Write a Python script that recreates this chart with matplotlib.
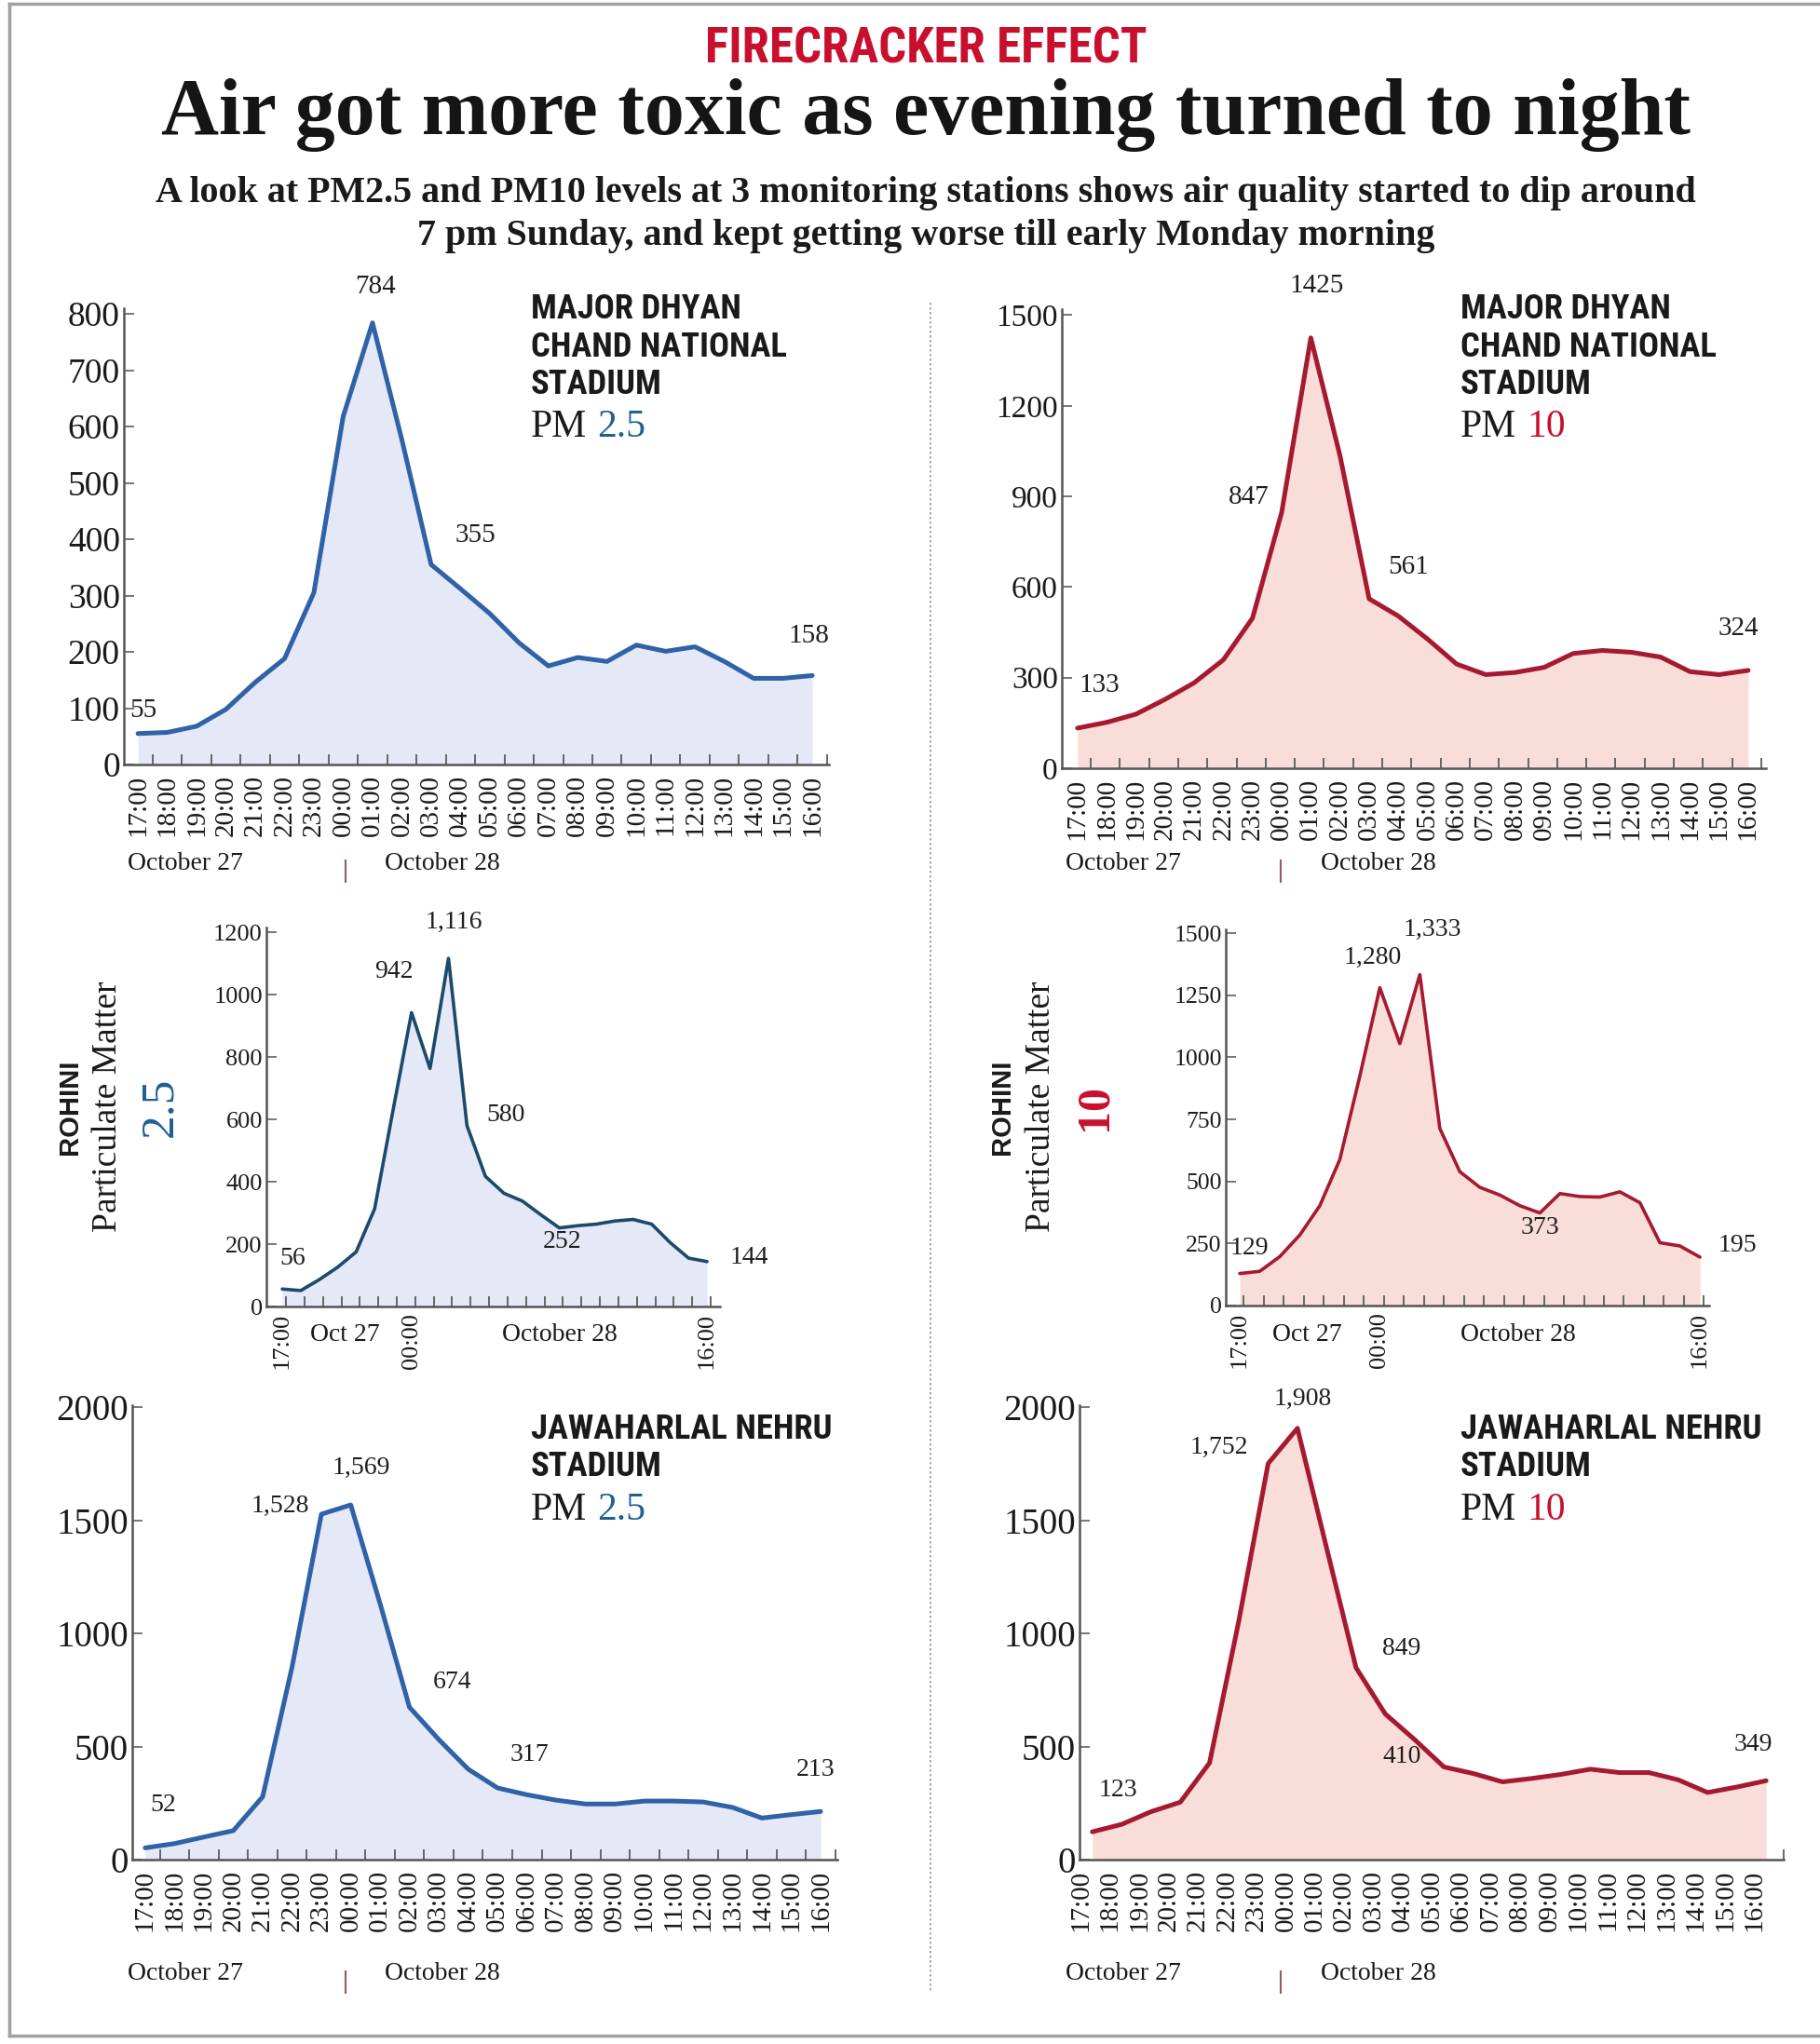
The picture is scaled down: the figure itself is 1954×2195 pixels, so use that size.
import numpy as np
import matplotlib
matplotlib.use("Agg")
import matplotlib.pyplot as plt
from matplotlib.lines import Line2D

plt.rcParams['font.family'] = ['Liberation Serif', 'DejaVu Serif']

# hourly readings, 17:00 on Oct 27 to 16:00 on Oct 28
hours = ['17:00', '18:00', '19:00', '20:00', '21:00', '22:00', '23:00', '00:00',
         '01:00', '02:00', '03:00', '04:00', '05:00', '06:00', '07:00', '08:00',
         '09:00', '10:00', '11:00', '12:00', '13:00', '14:00', '15:00', '16:00']

mdc_pm25 = [55, 57, 68, 98, 146, 188, 305, 618, 784, 577, 355, 312,
            268, 216, 175, 190, 183, 212, 201, 209, 183, 153, 153, 158]
mdc_pm10 = [133, 152, 179, 228, 283, 359, 497, 847, 1425, 1035, 561, 504,
            428, 345, 310, 317, 334, 380, 390, 384, 368, 320, 310, 324]
rohini_pm25 = [56, 51, 86, 126, 175, 313, 630, 942, 763, 1116, 580, 417,
               363, 338, 294, 252, 259, 264, 274, 279, 264, 205, 155, 144]
rohini_pm10 = [129, 138, 197, 284, 402, 588, 924, 1280, 1055, 1333, 713, 539,
               476, 445, 402, 373, 451, 439, 437, 458, 414, 253, 240, 195]
jns_pm25 = [52, 71, 100, 128, 278, 851, 1528, 1569, 1132, 674, 531, 400,
            317, 287, 263, 246, 246, 259, 259, 255, 231, 184, 199, 213]
jns_pm10 = [123, 156, 212, 254, 428, 1057, 1752, 1908, 1376, 849, 644, 531,
            410, 381, 344, 359, 377, 400, 385, 385, 353, 297, 321, 349]

# which points get a value label
mdc_pm25_marks = [0, 8, 10, 23]
mdc_pm10_marks = [0, 7, 8, 10, 23]
rohini_pm25_marks = [0, 7, 9, 10, 15, 23]
rohini_pm10_marks = [0, 7, 9, 15, 23]
jns_pm25_marks = [0, 6, 7, 9, 12, 23]
jns_pm10_marks = [0, 6, 7, 9, 12, 23]

W, H = 1954, 2195
BLUE_LINE = '#2f62a6'
BLUE_DARK = '#1c4a6c'
BLUE_FILL = '#e5e8f7'
RED_LINE = '#a51a30'
RED_FILL = '#f9ddd8'
BLUE_TXT = '#1f5f92'
RED_TXT = '#c8102e'
NARROW = ['Roboto Condensed', 'DejaVu Sans Condensed', 'Liberation Sans Narrow',
          'Liberation Sans', 'DejaVu Sans']

fig = plt.figure(figsize=(W / 100, H / 100), dpi=100)


def add_ax(left, right, bottom, top):
    return fig.add_axes([left / W, 1 - bottom / H, (right - left) / W, (bottom - top) / H])


def draw_panel(ax, values, marks, offsets, line, fill, lw, xlim, ylim, yticks,
               label_pos, label_idx, tick_pos, ysize, xsize, comma, nsize=20, xpad=8):
    x = np.arange(len(values))
    ax.fill_between(x, values, 0, color=fill, lw=0)
    ax.plot(x, values, color=line, lw=lw, solid_joinstyle='round', solid_capstyle='round')
    ax.set_xlim(*xlim)
    ax.set_ylim(*ylim)
    for s in ['top', 'right']:
        ax.spines[s].set_visible(False)
    for s in ['left', 'bottom']:
        ax.spines[s].set_color('#555555')
        ax.spines[s].set_linewidth(1.8)
    ax.set_facecolor('none')
    ax.set_yticks(yticks)
    ax.set_yticklabels([str(v) for v in yticks])
    ax.tick_params(axis='y', direction='in', length=8, width=1.4, color='#777777',
                   pad=3, labelsize=ysize, labelcolor='#1a1a1a')
    ax.set_xticks(label_pos)
    ax.set_xticklabels([hours[i] for i in label_idx], rotation=90)
    ax.tick_params(axis='x', which='major', length=0, pad=xpad, labelsize=xsize,
                   labelcolor='#1a1a1a')
    ax.set_xticks(tick_pos, minor=True)
    ax.tick_params(axis='x', which='minor', direction='in', length=8, width=1.4,
                   color='#666666')
    for i, (dx, dy) in zip(marks, offsets):
        txt = f"{values[i]:,}" if comma else str(values[i])
        ax.annotate(txt, xy=(i, values[i]), xytext=(dx * 0.72, dy * 0.72),
                    textcoords='offset points', ha='center', va='center',
                    fontsize=nsize, color='#1e1e1e')


all_pos = list(range(24))

# top row: Major Dhyan Chand National Stadium
ax1 = add_ax(133, 890, 821, 331)
draw_panel(ax1, mdc_pm25, mdc_pm25_marks, [(6, 25), (3, 39), (48, 31), (-4, 42)],
           BLUE_LINE, BLUE_FILL, 3.6, (-0.48, 23.57), (0, 810), list(range(0, 801, 100)),
           all_pos, all_pos, np.arange(0.5, 24), 27, 21, False, 21)

ax2 = add_ax(1140, 1896, 825, 332)
draw_panel(ax2, mdc_pm10, mdc_pm10_marks, [(23, 46), (-35, 16), (6, 56), (42, 34), (-11, 45)],
           RED_LINE, RED_FILL, 3.6, (-0.54, 23.61), (0, 1520), list(range(0, 1501, 300)),
           all_pos, all_pos, np.arange(0.45, 24), 24, 21, False, 21)

# middle row: Rohini
ax3 = add_ax(286, 773, 1403, 996)
draw_panel(ax3, rohini_pm25, rohini_pm25_marks,
           [(11, 33), (-19, 44), (6, 39), (42, 11), (3, -15), (45, 4)],
           BLUE_DARK, BLUE_FILL, 2.6, (-0.86, 23.7), (0, 1215), list(range(0, 1201, 200)),
           [0, 7, 23], [0, 7, 23], np.arange(0.2, 24), 19, 19, True, 20, 5)

ax4 = add_ax(1316, 1835, 1402, 998)
draw_panel(ax4, rohini_pm10, rohini_pm10_marks,
           [(10, 27), (-8, 32), (13, 48), (0, -16), (40, 13)],
           RED_LINE, RED_FILL, 2.6, (-0.70, 23.46), (0, 1515), list(range(0, 1501, 250)),
           [0, 7, 23], [0, 7, 23], np.arange(0.2, 24), 18.5, 19, True, 20, 5)

# bottom row: Jawaharlal Nehru Stadium
ax5 = add_ax(142, 899, 1997, 1509)
draw_panel(ax5, jns_pm25, jns_pm25_marks,
           [(19, 46), (-44, 9), (11, 40), (46, 27), (34, 36), (-5, 45)],
           BLUE_LINE, BLUE_FILL, 3.6, (-0.44, 23.57), (0, 2010), list(range(0, 2001, 500)),
           all_pos, all_pos, np.arange(0.5, 24), 28, 21, True)

ax6 = add_ax(1159, 1915, 1997, 1509)
draw_panel(ax6, jns_pm10, jns_pm10_marks,
           [(28, 45), (-53, 17), (6, 31), (49, 20), (-45, 11), (-14, 39)],
           RED_LINE, RED_FILL, 3.6, (-0.44, 23.54), (0, 2010), list(range(0, 2001, 500)),
           [i - 0.4 for i in all_pos], all_pos, np.arange(0.6, 24), 28, 21, True)


def ftext(x, y, s, **kw):
    return fig.text(x / W, 1 - y / H, s, **kw)


def fit(t, width):
    r = fig.canvas.get_renderer()
    w = t.get_window_extent(r).width
    t.set_fontsize(t.get_fontsize() * width / w)
    return t.get_fontsize()


# headline block
t = ftext(994, 67, 'FIRECRACKER EFFECT', ha='center', va='baseline', color=RED_TXT,
          fontsize=32, fontweight='bold', family=NARROW)
fit(t, 476)
t = ftext(994, 144, 'Air got more toxic as evening turned to night', ha='center',
          va='baseline', color='#151515', fontsize=60, fontweight='bold')
fit(t, 1645)
t = ftext(994, 217, 'A look at PM2.5 and PM10 levels at 3 monitoring stations shows air '
          'quality started to dip around', ha='center', va='baseline', color='#1a1a1a',
          fontsize=26, fontweight='bold')
fit(t, 1659)
ftext(994, 263, '7 pm Sunday, and kept getting worse till early Monday morning',
      ha='center', va='baseline', color='#1a1a1a', fontsize=t.get_fontsize(),
      fontweight='bold')

# station names, sized so the longest line matches the reference width
station_kw = dict(ha='left', va='baseline', color='#1a1a1a', fontweight='bold', family=NARROW)
probe = ftext(0, -100, 'JAWAHARLAL NEHRU', fontsize=27, **station_kw)
st_size = min(fit(probe, 323), 27)
probe.remove()
for x0, pm, col in [(570, '2.5', BLUE_TXT), (1568, '10', RED_TXT)]:
    for y0, line in zip([342, 383, 423], ['MAJOR DHYAN', 'CHAND NATIONAL', 'STADIUM']):
        ftext(x0, y0, line, fontsize=st_size, **station_kw)
    for y0, line in zip([1545, 1585], ['JAWAHARLAL NEHRU', 'STADIUM']):
        ftext(x0, y0, line, fontsize=st_size, **station_kw)
    for y0 in [469, 1632]:
        ftext(x0, y0, 'PM', ha='left', va='baseline', color='#1a1a1a', fontsize=30)
        ftext(x0 + 71, y0, pm, ha='left', va='baseline', color=col, fontsize=30)

# Rohini side labels
for xr, xp, xn, pm, col, wt, sz in [(75, 116, 172, '2.5', BLUE_TXT, 'normal', 37),
                                    (1076, 1118, 1176, '10', RED_TXT, 'bold', 36)]:
    ftext(xr, 1189, 'ROHINI', rotation=90, ha='center', va='center', color='#1a1a1a',
          fontsize=21, fontweight='bold', family=['Liberation Sans', 'DejaVu Sans'])
    ftext(xp, 1188, 'Particulate Matter', rotation=90, ha='center', va='center',
          color='#1a1a1a', fontsize=27)
    ftext(xn, 1189, pm, rotation=90, ha='center', va='center', color=col,
          fontsize=sz, fontweight=wt)

# date captions under the axes
date_kw = dict(ha='left', va='center', color='#1a1a1a', fontsize=20)
for y0, xs in [(927, [(137, 413, 371), (1144, 1418, 1375)]),
               (2120, [(137, 413, 371), (1144, 1418, 1375)])]:
    for xa, xb, xd in xs:
        ftext(xa, y0, 'October 27', **date_kw)
        ftext(xb, y0, 'October 28', **date_kw)
        fig.add_artist(Line2D([xd / W, xd / W], [1 - (y0 - 3) / H, 1 - (y0 + 20) / H],
                              color='#9a5a5a', lw=1.5))
for xa, xb in [(333, 539), (1366, 1568)]:
    ftext(xa, 1434, 'Oct 27', **date_kw)
    ftext(xb, 1434, 'October 28', **date_kw)

# frame and dotted divider
frame = dict(color='#a0a0a0', lw=2.5)
fig.add_artist(Line2D([10 / W, 10 / W], [1 - 4 / H, 1 - 2186 / H], **frame))
fig.add_artist(Line2D([10 / W, 1], [1 - 4 / H, 1 - 4 / H], **frame))
fig.add_artist(Line2D([10 / W, 1], [1 - 2186 / H, 1 - 2186 / H], **frame))
fig.add_artist(Line2D([999 / W, 999 / W], [1 - 325 / H, 1 - 2139 / H],
                      color='#999999', lw=1.2, ls=(0, (1.5, 1.5))))

fig.savefig('out.png', dpi=100)
